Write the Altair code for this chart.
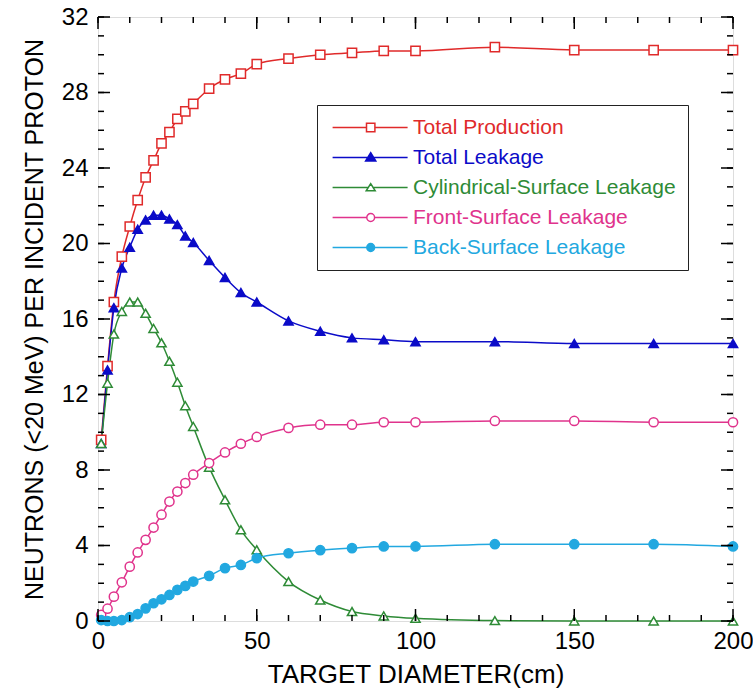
import altair as alt
import pandas as pd

# Target diameters (cm) at which each neutron yield was computed
diameter_cm = [1, 3, 5, 7.5, 10, 12.5, 15, 17.5, 20, 22.5, 25, 27.5, 30,
               35, 40, 45, 50, 60, 70, 80, 90, 100, 125, 150, 175, 200]

# Neutrons (<20 MeV) per incident proton
total_production = [9.6, 13.5, 16.9, 19.3, 20.9, 22.3, 23.5, 24.4, 25.3, 25.9, 26.6, 27.0, 27.4,
                    28.2, 28.7, 29.0, 29.5, 29.8, 30.0, 30.1, 30.2, 30.2, 30.4, 30.25, 30.25, 30.25]
total_leakage = [9.4, 13.3, 16.6, 18.7, 19.8, 20.75, 21.25, 21.5, 21.5, 21.3, 21.0, 20.4, 20.05,
                 19.1, 18.2, 17.4, 16.9, 15.9, 15.35, 15.0, 14.9, 14.8, 14.8, 14.7, 14.7, 14.7]
cylindrical_leakage = [9.4, 12.6, 15.2, 16.4, 16.9, 16.9, 16.3, 15.5, 14.74, 13.76, 12.65, 11.41, 10.31,
                       8.15, 6.42, 4.83, 3.77, 2.09, 1.11, 0.5, 0.27, 0.14, 0.02, 0.0, 0.0, 0.0]
front_leakage = [0.32, 0.65, 1.29, 2.05, 2.88, 3.63, 4.3, 4.95, 5.63, 6.33, 6.86, 7.31, 7.75,
                 8.37, 8.93, 9.39, 9.75, 10.23, 10.4, 10.4, 10.53, 10.53, 10.6, 10.6, 10.53, 10.53]
back_leakage = [0.05, 0.0, 0.0, 0.05, 0.2, 0.37, 0.67, 0.94, 1.15, 1.38, 1.65, 1.86, 2.09,
                2.39, 2.8, 2.97, 3.33, 3.59, 3.75, 3.86, 3.95, 3.95, 4.07, 4.07, 4.07, 3.95]

series_names = ["Total Production", "Total Leakage", "Cylindrical-Surface Leakage",
                "Front-Surface Leakage", "Back-Surface Leakage"]
series_values = [total_production, total_leakage, cylindrical_leakage, front_leakage, back_leakage]
series_colors = ["#E02A2A", "#0B0BC8", "#2E8B36", "#E0338C", "#22A8E0"]
marker_shapes = ["square", "triangle-up", "triangle-up", "circle", "circle"]
marker_fills = ["white", "#0B0BC8", "white", "white", "#22A8E0"]

# Legend glyphs: a line sample with the series marker in its middle
legend_glyphs = [
    "M-2.3,0H9.0M11.8,0H22.7M9.0,-1.4H11.8V1.4H9.0Z",
    "M-2.3,0H22.7M10.4,-1.6L12.1,1.2H8.7Z",
    "M-2.3,0H9.6M11.2,0H22.7M10.4,-1.3L11.9,1.1H8.9Z",
    "M-2.3,0H9.1M11.7,0H22.7M9.1,0A1.3,1.3 0 1,0 11.7,0A1.3,1.3 0 1,0 9.1,0Z",
    "M-2.3,0H22.7M9.1,0A1.3,1.3 0 1,0 11.7,0A1.3,1.3 0 1,0 9.1,0Z",
]

x_major = [0, 50, 100, 150, 200]
x_minor = list(range(0, 201, 10))
y_major = list(range(0, 33, 4))
y_minor = list(range(0, 33, 1))

W, H = 635, 604
X_MAX, Y_MAX = 200, 32
FONT = "Liberation Sans"
MARKER_SIZE = 85

# Inward tick glyphs, drawn as point symbols anchored on the frame edges.
# Symbol paths are scaled by sqrt(size)/2 pixels per path unit.
unit = MARKER_SIZE ** 0.5 / 2
MAJOR, MINOR = 12 / unit, 6 / unit
tick_kinds = {
    "tick-up-major": "M0,0V-%.3f" % MAJOR, "tick-up-minor": "M0,0V-%.3f" % MINOR,
    "tick-down-major": "M0,0V%.3f" % MAJOR, "tick-down-minor": "M0,0V%.3f" % MINOR,
    "tick-right-major": "M0,0H%.3f" % MAJOR, "tick-right-minor": "M0,0H%.3f" % MINOR,
    "tick-left-major": "M0,0H-%.3f" % MAJOR, "tick-left-minor": "M0,0H-%.3f" % MINOR,
}

rows = []
for name, values in zip(series_names, series_values):
    for d, v in zip(diameter_cm, values):
        rows.append({"kind": "curve", "diameter": d, "neutrons": v, "series": name, "marker": name})
for values, size in ((x_minor, "minor"), (x_major, "major")):
    for v in values:
        rows.append({"kind": "tick", "diameter": v, "neutrons": 0, "series": "", "marker": "tick-up-" + size})
        rows.append({"kind": "tick", "diameter": v, "neutrons": Y_MAX, "series": "", "marker": "tick-down-" + size})
for values, size in ((y_minor, "minor"), (y_major, "major")):
    for v in values:
        rows.append({"kind": "tick", "diameter": 0, "neutrons": v, "series": "", "marker": "tick-right-" + size})
        rows.append({"kind": "tick", "diameter": X_MAX, "neutrons": v, "series": "", "marker": "tick-left-" + size})
df = pd.DataFrame(rows)


def per_series(values):
    """Vega expression picking a value per legend entry."""
    expr = "'%s'" % values[-1]
    for name, val in reversed(list(zip(series_names[:-1], values[:-1]))):
        expr = "datum.value === '%s' ? '%s' : (%s)" % (name, val, expr)
    return {"expr": expr}


marker_domain = series_names + list(tick_kinds)
x_scale = alt.Scale(domain=[0, X_MAX], nice=False, zero=False)
y_scale = alt.Scale(domain=[0, Y_MAX], nice=False, zero=False)

# One axis definition per channel, shared by both layers so they merge
x_axis = alt.Axis(
    orient="bottom", values=x_major, title="TARGET DIAMETER(cm)", ticks=False, tickSize=0,
    domain=False, grid=False, labelFontSize=24, titleFontSize=26, labelPadding=8,
    titlePadding=8, labelFlush=False, labelFont=FONT, titleFont=FONT,
    titleFontWeight="normal", labelColor="black", titleColor="black")
y_axis = alt.Axis(
    orient="left", values=y_major, title="NEUTRONS (<20 MeV) PER INCIDENT PROTON",
    ticks=False, tickSize=0, domain=False, grid=False, labelFontSize=24, titleFontSize=25,
    labelPadding=10, titlePadding=14, labelFont=FONT, titleFont=FONT,
    titleFontWeight="normal", labelColor="black", titleColor="black")

legend = alt.Legend(
    title=None, orient="none", legendX=219, legendY=88,
    symbolType=per_series(legend_glyphs), symbolSize=36, symbolStrokeWidth=1.5,
    symbolFillColor=per_series(marker_fills), labelColor=per_series(series_colors),
    labelFont=FONT, labelFontSize=21, labelOffset=63, labelLimit=500,
    rowPadding=8, padding=12, strokeColor="#222", fillColor="white",
)

lines = alt.Chart(df).transform_filter("datum.kind === 'curve'").mark_line(
    interpolate="monotone", strokeWidth=1.5
).encode(
    x=alt.X("diameter:Q", scale=x_scale, axis=x_axis),
    y=alt.Y("neutrons:Q", scale=y_scale, axis=y_axis),
    color=alt.Color("series:N", scale=alt.Scale(domain=series_names, range=series_colors),
                    legend=legend),
)

markers = alt.Chart(df).mark_point(
    filled=True, size=MARKER_SIZE, strokeWidth=1.5, opacity=1
).encode(
    x=alt.X("diameter:Q", scale=x_scale, axis=x_axis),
    y=alt.Y("neutrons:Q", scale=y_scale, axis=y_axis),
    shape=alt.Shape("marker:N", legend=None, scale=alt.Scale(
        domain=marker_domain, range=marker_shapes + list(tick_kinds.values()))),
    stroke=alt.Stroke("marker:N", legend=None, scale=alt.Scale(
        domain=marker_domain, range=series_colors + ["black"] * len(tick_kinds))),
    fill=alt.Fill("marker:N", legend=None, scale=alt.Scale(
        domain=marker_domain, range=marker_fills + ["black"] * len(tick_kinds))),
)

chart = alt.layer(lines, markers).properties(
    width=W, height=H,
    autosize=alt.AutoSizeParams(type="none"),
    padding={"left": 98, "top": 17, "right": 20, "bottom": 76},
).configure_view(stroke="#111", strokeWidth=1.5).configure(font=FONT, background="white")

chart.save("out.html", embed_options={"renderer": "svg", "actions": False})
